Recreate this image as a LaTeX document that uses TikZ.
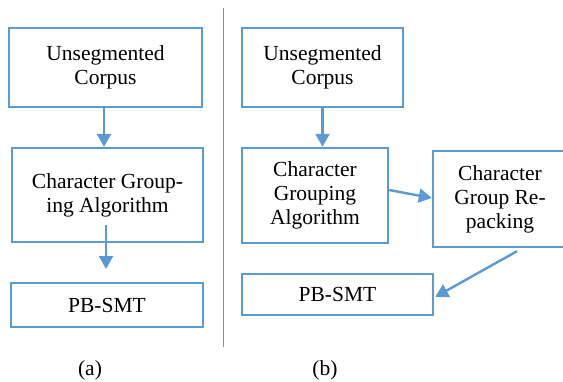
\documentclass[tikz,border=0pt]{standalone}
\usepackage{fontspec}
\setmainfont{Liberation Serif}
\usetikzlibrary{arrows.meta,calc}
\definecolor{boxblue}{HTML}{5B9BD5}
\tikzset{
  procbox/.style={draw=boxblue, line width=2.4pt, rectangle, inner sep=0pt, align=center,
    font=\fontsize{21.5}{24}\selectfont, text=black},
  arr/.style={draw=boxblue, line width=2.4pt, -{Triangle[width=14pt,length=13pt]}},
  caption/.style={font=\fontsize{21.5}{24}\selectfont, inner sep=0pt}
}
\begin{document}
\begin{tikzpicture}[x=1pt,y=-1pt]
\useasboundingbox (0,0) rectangle (563,381);
% left (a)
\node[procbox, minimum width=193pt, minimum height=79pt] (A1) at (105.5,67.5) {Unsegmented\\Corpus};
\node[procbox, minimum width=191pt, minimum height=94pt] (A2) at (107.5,195) {Character Group-\\ing Algorithm};
\node[procbox, minimum width=192pt, minimum height=44pt] (A3) at (107,305) {PB-SMT};
\draw[arr] ($(A1.south)+(-1.5,0)$) -- ($(A1.south |- A2.north)+(-1.5,0)$);
\coordinate (a2s) at (106,225);
\coordinate (a3t) at (106,269);
\draw[arr] (a2s) -- (a3t);
% divider
\coordinate (d1) at (223.5,8);
\coordinate (d2) at (223.5,347);
\draw[boxblue, line width=1pt] (d1) -- (d2);
% right (b)
\node[procbox, minimum width=161pt, minimum height=79pt] (B1) at (322.5,67.5) {Unsegmented\\Corpus};
\node[procbox, minimum width=146pt, minimum height=95pt] (B2) at (315,195.5) {Character\\Grouping\\Algorithm};
\node[procbox, minimum width=134pt, minimum height=96pt] (B3) at (500,199) {Character\\Group Re-\\packing};
\node[procbox, minimum width=191pt, minimum height=41pt] (B4) at (337.5,294.5) {PB-SMT};
\draw[arr] (B1.south) -- (B1.south |- B2.north);
\draw[arr] ($(B2.east)+(0,-5.5)$) -- ($(B3.west)+(0,-1)$);
\draw[arr] ($(B3.south)+(17,3)$) -- ($(B4.east)+(1,2.5)$);
% captions
\node[caption] (ca) at (90,370) {(a)};
\node[caption] (cb) at (325,370) {(b)};
\end{tikzpicture}
\end{document}
